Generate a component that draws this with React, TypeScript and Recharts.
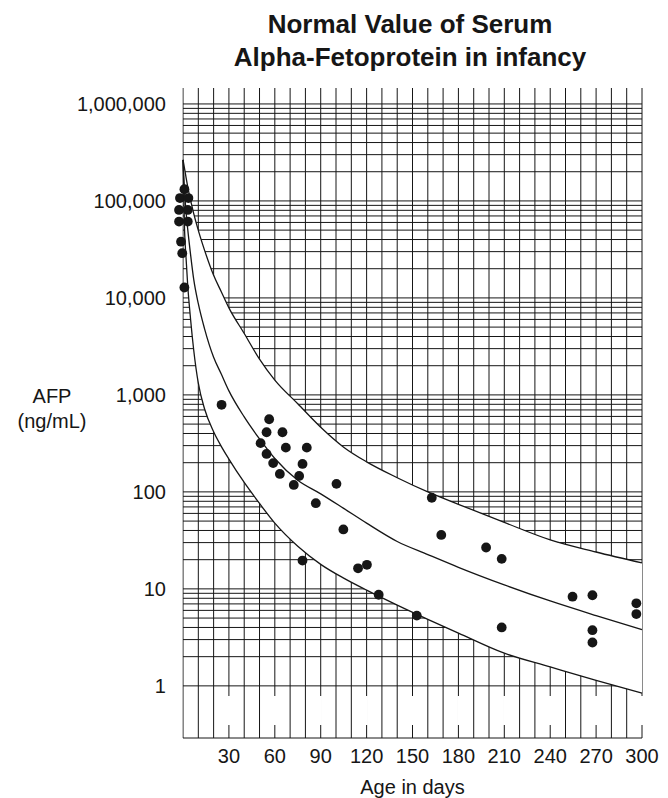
import React from 'react';
import { ComposedChart, XAxis, YAxis, CartesianGrid, Line, Area, Scatter, ReferenceArea } from 'recharts';

// Reference curves (upper limit, mean, lower limit) at these ages
const CURVE_DAYS = [0, 1, 2, 3, 5, 7, 10, 14, 20, 25, 30, 40, 50, 60, 75, 90, 105, 120, 140, 160, 180, 210, 240, 270, 300];
const UPPER = [265000, 216000, 174000, 142000, 100500, 74100, 49700, 31300, 17100, 11600, 7900, 4300, 2340, 1420, 810, 464, 289, 204, 140, 100, 74.5, 48.4, 32, 24, 18.5];
const MIDDLE = [265000, 126000, 75900, 52500, 27500, 15500, 8710, 4850, 2440, 1640, 1100, 593, 352, 221, 132, 95.5, 67.6, 47.6, 30.8, 22.6, 16.7, 11, 7.5, 5.3, 3.8];
const LOWER = [265000, 50200, 25500, 14000, 5890, 2890, 1320, 724, 417, 295, 218, 125, 76, 47.6, 27.5, 17.9, 12.9, 9.7, 6.8, 4.85, 3.5, 2.17, 1.57, 1.14, 0.84];

// Individual measurements (newborn cluster is spread a little either side of day 0)
const AGE_DAYS = [
  0.9, -2, 3.5, -2.6, 3.1, -2.6, 3.1, -1.3, -0.5, 0.9,
  25.2, 50.7, 54.6, 56.3, 54.6, 58.9, 63.3, 65, 67.2, 72.4, 75.9, 78.1, 80.9, 78.1, 86.8,
  100.3, 104.8, 114.4, 120.2, 127.9, 152.8, 162.6, 168.8, 198.1, 208.3, 208.3,
  254.6, 267.6, 267.6, 267.6, 296.3, 296.3,
];
const AFP_VALUES = [
  132000, 107000, 107000, 80700, 80700, 61300, 61300, 38000, 28900, 12800,
  790, 318, 412, 561, 246, 198, 153, 412, 286, 118, 146, 194, 286, 19.6, 76.5,
  121, 41, 16.3, 17.7, 8.7, 5.3, 87, 36, 26.7, 20.4, 4.0,
  8.3, 8.6, 3.75, 2.8, 7.1, 5.5,
];

const X_TICKS = [0, 10, 20, 30, 40, 50, 60, 70, 80, 90, 100, 110, 120, 130, 140, 150, 160, 170, 180, 190, 200, 210, 220, 230, 240, 250, 260, 270, 280, 290, 300];
const X_LABELS = [30, 60, 90, 120, 150, 180, 210, 240, 270, 300];
const Y_DECADES = [1, 10, 100, 1000, 10000, 100000, 1000000];
const Y_STEPS = [1, 2, 3, 4, 5, 6, 7, 8, 9];

const FONT = '"Liberation Sans", Arial, Helvetica, sans-serif';
const INK = '#161616';

const W = 668;
const H = 798;
const PLOT_LEFT = 176.9;
const PLOT_RIGHT = 642;
const PLOT_TOP = 88;
const PLOT_BOTTOM = 738;
const X_MIN = -4;
const X_MAX = 300;
const Y_MIN = 0.29;
const Y_MAX = 1460000;

const curveData = CURVE_DAYS.map((day, i) => ({
  day,
  upper: UPPER[i],
  middle: MIDDLE[i],
  lower: LOWER[i],
  band: [LOWER[i], UPPER[i]],
}));

const points = AGE_DAYS.map((day, i) => ({ day, afp: AFP_VALUES[i] }));

// log grid: 1..9 in every decade, plus the bottom edge (acts as the x axis line)
const yTicks = [
  Y_MIN,
  ...Y_DECADES.slice(0, -1).flatMap((d) => Y_STEPS.map((s) => s * d)),
  Y_DECADES[Y_DECADES.length - 1],
];

// grid starts at day 0, not at the left edge of the plot
const dayZeroX = PLOT_LEFT + ((0 - X_MIN) / (X_MAX - X_MIN)) * (PLOT_RIGHT - PLOT_LEFT);

function AgeTick({ x, y, payload }: any) {
  const v = payload.value;
  if (!X_LABELS.includes(v)) return null;
  return (
    <g>
      <line x1={x} x2={x} y1={y - 42} y2={y - 13} stroke="#fff" strokeWidth={2.5} />
      <text x={x} y={y} dy={24.7} textAnchor="middle" fontSize={20} fill={INK} fontFamily={FONT}>
        {v}
      </text>
    </g>
  );
}

const Dot = (props: any) => <circle cx={props.cx} cy={props.cy} r={4.9} fill={INK} />;

export default function App() {
  return (
    <div
      style={{
        position: 'absolute',
        left: 0,
        top: 0,
        width: W,
        height: H,
        overflow: 'hidden',
        background: '#fff',
        fontFamily: FONT,
        color: INK,
      }}
    >
      <div
        style={{
          position: 'absolute',
          left: 160,
          top: 7.5,
          width: 500,
          textAlign: 'center',
          fontWeight: 'bold',
          fontSize: 26,
          lineHeight: '33px',
        }}
      >
        <div>Normal Value of Serum</div>
        <div>Alpha-Fetoprotein in infancy</div>
      </div>

      <div
        style={{
          position: 'absolute',
          left: -8,
          top: 384,
          width: 120,
          textAlign: 'center',
          fontSize: 20,
          lineHeight: '25px',
        }}
      >
        <div>AFP</div>
        <div>(ng/mL)</div>
      </div>

      <div
        style={{
          position: 'absolute',
          left: 312.5,
          top: 774.6,
          width: 200,
          textAlign: 'center',
          fontSize: 20,
          lineHeight: '25px',
        }}
      >
        Age in days
      </div>

      <ComposedChart
        width={W}
        height={H}
        data={curveData}
        margin={{ top: PLOT_TOP, right: W - PLOT_RIGHT, bottom: 0, left: 0 }}
        style={{ position: 'absolute', left: 0, top: 0 }}
      >
        <CartesianGrid
          x={dayZeroX}
          width={PLOT_RIGHT - dayZeroX}
          syncWithTicks
          stroke={INK}
          strokeWidth={1}
          strokeDasharray=""
        />
        <XAxis
          type="number"
          dataKey="day"
          domain={[X_MIN, X_MAX]}
          ticks={X_TICKS}
          interval={0}
          height={H - PLOT_BOTTOM}
          axisLine={false}
          tickLine={false}
          tickSize={0}
          tickMargin={0}
          tick={<AgeTick />}
        />
        <YAxis
          type="number"
          scale="log"
          domain={[Y_MIN, Y_MAX]}
          ticks={yTicks}
          interval={0}
          width={PLOT_LEFT}
          axisLine={false}
          tickLine={false}
          tickSize={0}
          tickMargin={11}
          tick={{ fontSize: 20, fill: INK, fontFamily: FONT }}
          tickFormatter={(v: number) => (Y_DECADES.includes(v) ? v.toLocaleString('en-US') : '')}
        />
        <ReferenceArea x1={X_MIN} x2={-0.4} fill="#fff" fillOpacity={1} stroke="none" />
        <Area
          type="monotone"
          dataKey="band"
          stroke="none"
          fill="#fff"
          fillOpacity={1}
          isAnimationActive={false}
        />
        <Line type="monotone" dataKey="upper" stroke={INK} strokeWidth={1.3} dot={false} isAnimationActive={false} />
        <Line type="monotone" dataKey="middle" stroke={INK} strokeWidth={1.3} dot={false} isAnimationActive={false} />
        <Line type="monotone" dataKey="lower" stroke={INK} strokeWidth={1.3} dot={false} isAnimationActive={false} />
        <Scatter data={points} dataKey="afp" shape={Dot} isAnimationActive={false} />
      </ComposedChart>
    </div>
  );
}
